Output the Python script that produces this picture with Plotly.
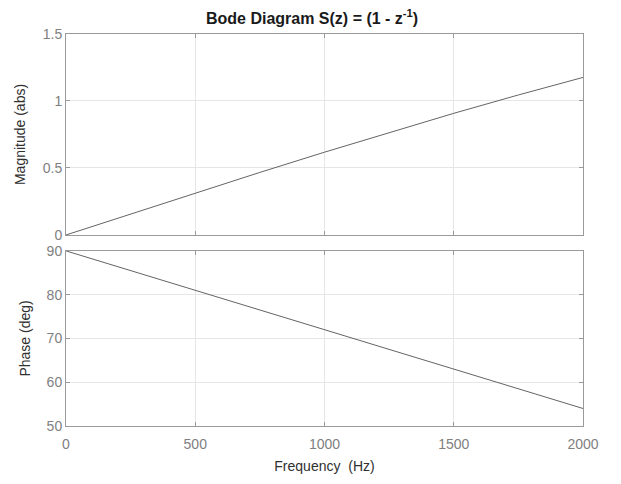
import plotly.graph_objects as go

# Values
freq_hz = [0, 250, 500, 750, 1000, 1250, 1500, 1750, 2000]
magnitude_abs = [0.0, 0.157, 0.313, 0.467, 0.618, 0.765, 0.908, 1.045, 1.176]
phase_deg = [90.0, 85.5, 81.0, 76.5, 72.0, 67.5, 63.0, 58.5, 54.0]

x_ticks = [0, 500, 1000, 1500, 2000]
mag_ticks = [0, 0.5, 1, 1.5]
mag_tick_text = ["0", "0.5", "1", "1.5"]
phase_ticks = [50, 60, 70, 80, 90]

FONT = "Liberation Sans, Arial, sans-serif"
AXIS_COLOR = "#9a9a9a"
GRID_COLOR = "#e6e6e6"
TICK_FONT = dict(family=FONT, size=14, color="#808080")
TITLE_FONT = dict(family=FONT, size=14, color="#303030")
LINE_COLOR = "#646464"

fig = go.Figure()
fig.add_trace(go.Scatter(x=freq_hz, y=magnitude_abs, mode="lines",
                         line=dict(color=LINE_COLOR, width=1), xaxis="x", yaxis="y",
                         showlegend=False))
fig.add_trace(go.Scatter(x=freq_hz, y=phase_deg, mode="lines",
                         line=dict(color=LINE_COLOR, width=1), xaxis="x2", yaxis="y2",
                         showlegend=False))

common_axis = dict(showline=True, linecolor=AXIS_COLOR, linewidth=1, mirror="ticks",
                   ticks="inside", ticklen=4, tickcolor=AXIS_COLOR,
                   showgrid=True, gridcolor=GRID_COLOR, gridwidth=1,
                   zeroline=False, tickfont=TICK_FONT)

# The page adds an 8px body margin, so the figure is slightly smaller than the window
fig.update_layout(
    width=613, height=476,
    margin=dict(l=57, r=38, t=26, b=56),
    paper_bgcolor="white", plot_bgcolor="white",
    title=dict(text="<b>Bode Diagram S(z) = (1 - z<sup>-1</sup>)</b>",
               x=0.496, xanchor="center", y=0.978, yanchor="middle",
               font=dict(family=FONT, size=16, color="#1a1a1a")),
    xaxis=dict(domain=[0, 1], range=[0, 2000], tickvals=x_ticks, showticklabels=False,
               anchor="y", **common_axis),
    yaxis=dict(domain=[0.4873, 1], range=[0, 1.5], tickvals=mag_ticks,
               ticktext=mag_tick_text, anchor="x",
               title=dict(text="Magnitude (abs)", standoff=13, font=TITLE_FONT),
               **common_axis),
    xaxis2=dict(domain=[0, 1], range=[0, 2000], tickvals=x_ticks, anchor="y2",
                ticklabelstandoff=5,
                title=dict(text="Frequency  (Hz)", standoff=10, font=TITLE_FONT),
                **common_axis),
    yaxis2=dict(domain=[0, 0.4467], range=[50, 90], tickvals=phase_ticks, anchor="x2",
                title=dict(text="Phase (deg)", standoff=12, font=TITLE_FONT),
                **common_axis),
)

fig.write_html("out.html")
